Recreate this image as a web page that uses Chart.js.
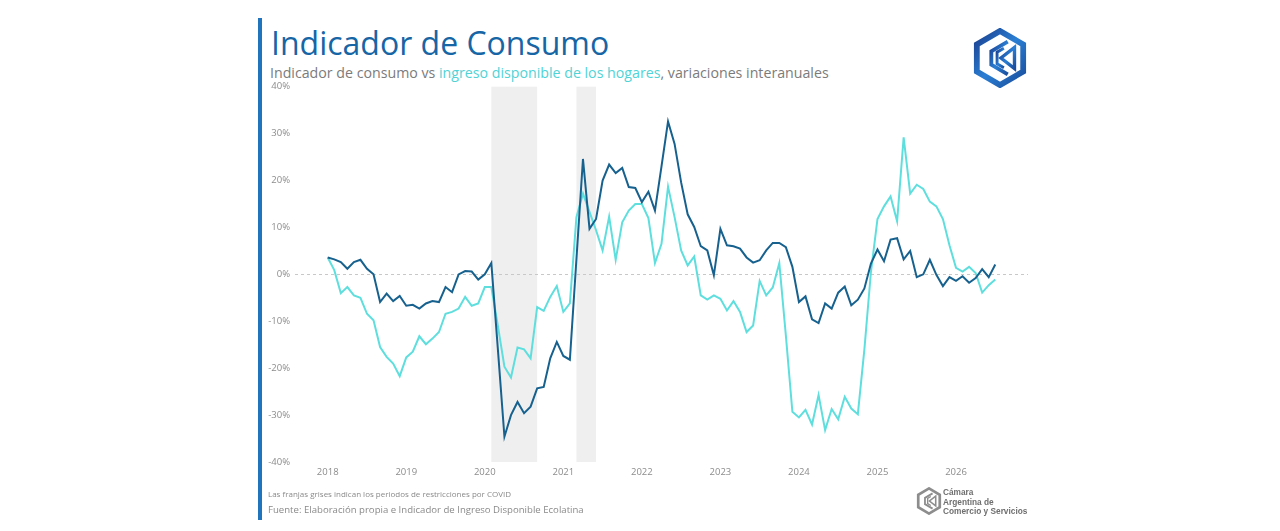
<!DOCTYPE html>
<html lang="es">
<head>
<meta charset="utf-8">
<title>Indicador de Consumo</title>
<script src="https://cdn.jsdelivr.net/npm/chart.js@4.4.1/dist/chart.umd.min.js"></script>
<style>
  html, body { margin: 0; padding: 0; background: #fff; }
  body { width: 1280px; height: 531px; position: relative; overflow: hidden; font-family: "Open Sans", "Noto Sans", sans-serif; }
  .bar { position: absolute; left: 258px; top: 18px; width: 4px; height: 502px; background: #1f74bd; }
  .title { position: absolute; left: 271px; top: 27px; font-size: 32px; line-height: 32px; color: #1666a6; white-space: nowrap; }
  .subtitle { position: absolute; left: 270px; top: 65px; font-size: 14.2px; line-height: 15px; color: #7b7b7b; white-space: nowrap; }
  .subtitle span { color: #4fd3d6; }
  .note { position: absolute; left: 268px; top: 489px; font-size: 8px; line-height: 9px; color: #8a8a8a; white-space: nowrap; }
  .source { position: absolute; left: 268px; top: 504px; font-size: 9.6px; line-height: 11px; color: #8a8a8a; white-space: nowrap; }
  .chart-box { position: absolute; left: 255px; top: 76px; width: 785px; height: 414px; }
  .logo { position: absolute; left: 972px; top: 28px; }
  .logo-small { position: absolute; left: 916px; top: 487px; }
  .cac { position: absolute; left: 943px; top: 488px; font-size: 8.3px; line-height: 9.5px; color: #6f6f6f; font-weight: bold; font-family: "Liberation Sans", Arial, sans-serif; }
</style>
</head>
<body>
<div class="bar"></div>
<div class="title">Indicador de Consumo</div>
<div class="subtitle">Indicador de consumo vs <span>ingreso disponible de los hogares</span>, variaciones interanuales</div>

<svg class="logo" width="56" height="60" viewBox="0 0 58 62">
  <defs>
    <linearGradient id="lg" x1="0" y1="0" x2="1" y2="1">
      <stop offset="0" stop-color="#1b3f8f"/>
      <stop offset="0.5" stop-color="#2a7fd4"/>
      <stop offset="1" stop-color="#1a4d9c"/>
    </linearGradient>
  </defs>
  <polygon points="29,3 53,17 53,45 29,59 5,45 5,17" fill="none" stroke="url(#lg)" stroke-width="6"/>
  <polyline points="37,14 20,24 20,38 37,48" fill="none" stroke="url(#lg)" stroke-width="4"/>
  <polyline points="33,21 26,25 26,37 33,41" fill="none" stroke="url(#lg)" stroke-width="3"/>
  <polygon points="44,20 44,42 30,31" fill="none" stroke="url(#lg)" stroke-width="3.5"/>
</svg>

<div class="chart-box"><canvas id="consumo_chart"></canvas></div>

<div class="note">Las franjas grises indican los periodos de restricciones por COVID</div>
<div class="source">Fuente: Elaboración propia e Indicador de Ingreso Disponible Ecolatina</div>

<svg class="logo-small" width="26" height="28" viewBox="0 0 58 62">
  <polygon points="29,3 53,17 53,45 29,59 5,45 5,17" fill="none" stroke="#8d8d8d" stroke-width="6"/>
  <polyline points="37,14 20,24 20,38 37,48" fill="none" stroke="#8d8d8d" stroke-width="4"/>
  <polyline points="33,21 26,25 26,37 33,41" fill="none" stroke="#8d8d8d" stroke-width="3"/>
  <polygon points="44,20 44,42 30,31" fill="none" stroke="#8d8d8d" stroke-width="3.5"/>
</svg>
<div class="cac">Cámara<br>Argentina de<br>Comercio y Servicios</div>

<script>
'use strict';

// Year ticks, one every 12 monthly points (Jan 2018 = index 0)
const yearLabels = ['2018', '2019', '2020', '2021', '2022', '2023', '2024', '2025', '2026'];

// Indicador de consumo, var. % interanual (monthly, Jan 2018 - Jul 2026)
const consumo = [
  3.6, 3.2, 2.6, 1.2, 2.6, 3.1, 1.2, 0.0, -5.9, -4.1, -5.7, -4.6,
  -6.7, -6.5, -7.3, -6.2, -5.7, -5.9, -2.7, -3.8, 0.0, 0.7, 0.6, -1.1,
  0.0, 2.4, -16.0, -34.6, -30.0, -27.2, -29.6, -28.2, -24.3, -24.0, -17.9, -14.4,
  -17.4, -18.2, 3.2, 24.6, 9.7, 11.8, 20.0, 23.4, 21.6, 22.7, 18.6, 18.4,
  15.4, 17.6, 13.6, 23.0, 32.6, 27.8, 19.6, 12.8, 10.1, 6.0, 5.1, -0.2,
  9.7, 6.2, 6.0, 5.5, 3.6, 2.5, 3.0, 5.1, 6.7, 6.7, 5.8, 1.6,
  -5.9, -4.7, -9.6, -10.4, -6.2, -7.3, -3.9, -2.6, -6.6, -5.4, -3.0, 2.3,
  5.3, 2.8, 7.4, 7.7, 3.2, 5.0, -0.6, 0.0, 3.1, -0.1, -2.5, -0.6,
  -1.4, -0.4, -1.8, -0.8, 1.1, -0.6, 2.1
];

// Ingreso disponible de los hogares, var. % interanual
const ingreso = [
  3.6, 0.9, -4.0, -2.7, -4.5, -5.0, -8.4, -9.8, -15.5, -17.6, -19.0, -21.7,
  -17.7, -16.5, -13.2, -14.9, -13.7, -12.3, -8.4, -8.0, -7.3, -4.8, -6.7, -6.2,
  -2.7, -2.7, -11.0, -19.7, -22.0, -15.6, -16.0, -17.9, -7.0, -7.8, -4.8, -2.5,
  -8.0, -6.2, 12.2, 17.2, 13.3, 9.4, 5.1, 12.3, 3.1, 11.1, 13.6, 15.0,
  15.0, 12.0, 2.4, 6.5, 18.7, 12.2, 5.1, 1.9, 3.8, -4.5, -5.4, -4.5,
  -5.2, -7.7, -5.7, -8.0, -12.3, -10.9, -1.4, -4.5, -2.8, 2.4, -13.0, -29.3,
  -30.5, -28.9, -32.0, -25.7, -33.2, -28.7, -30.9, -26.1, -28.6, -29.8, -16.0, 0.5,
  11.8, 14.5, 16.6, 11.3, 29.2, 17.2, 19.1, 18.2, 15.5, 14.5, 11.8, 6.2,
  1.4, 0.6, 1.6, 0.3, -3.9, -2.3, -1.1
];

// COVID restriction periods, as month indexes
const covidBands = [[25, 32], [38, 41]];

const toPoints = (arr) => arr.map((v, i) => ({ x: i, y: v }));

// grey stripes behind everything
const bandsPlugin = {
  id: 'covidBands',
  beforeDraw(chart) {
    const { ctx, chartArea, scales } = chart;
    ctx.save();
    ctx.fillStyle = '#efefef';
    covidBands.forEach(([a, b]) => {
      const x0 = scales.x.getPixelForValue(a);
      const x1 = scales.x.getPixelForValue(b);
      ctx.fillRect(x0, chartArea.top, x1 - x0, chartArea.bottom - chartArea.top);
    });
    ctx.restore();
  }
};

const tickFont = { family: '"Open Sans", "Noto Sans", sans-serif', size: 9.5 };

new Chart(document.getElementById('consumo_chart'), {
  type: 'line',
  data: {
    datasets: [{
      label: 'Indicador de consumo',
      data: toPoints(consumo),
      borderColor: '#17618f',
      borderWidth: 2,
      tension: 0,
      pointRadius: 0
    }, {
      label: 'Ingreso disponible de los hogares',
      data: toPoints(ingreso),
      borderColor: '#5fdede',
      borderWidth: 2,
      tension: 0,
      pointRadius: 0
    }]
  },
  options: {
    responsive: true,
    maintainAspectRatio: false,
    animation: false,
    layout: {
      padding: { top: 2, right: 12 }
    },
    plugins: {
      legend: { display: false },
      tooltip: { enabled: false }
    },
    scales: {
      x: {
        type: 'linear',
        min: -5,
        max: 107,
        grid: { display: false, drawTicks: false },
        border: { display: false },
        afterBuildTicks: (scale) => {
          scale.ticks = yearLabels.map((y, i) => ({ value: i * 12 }));
        },
        afterFit: (scale) => { scale.height = 28; },
        ticks: {
          color: '#8c8c8c',
          font: tickFont,
          padding: 5,
          maxRotation: 0,
          callback: (value) => yearLabels[Math.round(value / 12)]
        }
      },
      y: {
        min: -40,
        max: 40,
        afterFit: (scale) => { scale.width = 40; },
        grid: {
          drawTicks: false,
          color: (ctx) => (ctx.tick && ctx.tick.value === 0 ? '#c8c8c8' : 'rgba(0,0,0,0)'),
          lineWidth: 1
        },
        border: { display: false, dash: [3, 3] },
        ticks: {
          stepSize: 10,
          color: '#8c8c8c',
          font: tickFont,
          padding: 5,
          callback: (value) => value + '%'
        }
      }
    }
  },
  plugins: [bandsPlugin]
});
</script>
</body>
</html>
